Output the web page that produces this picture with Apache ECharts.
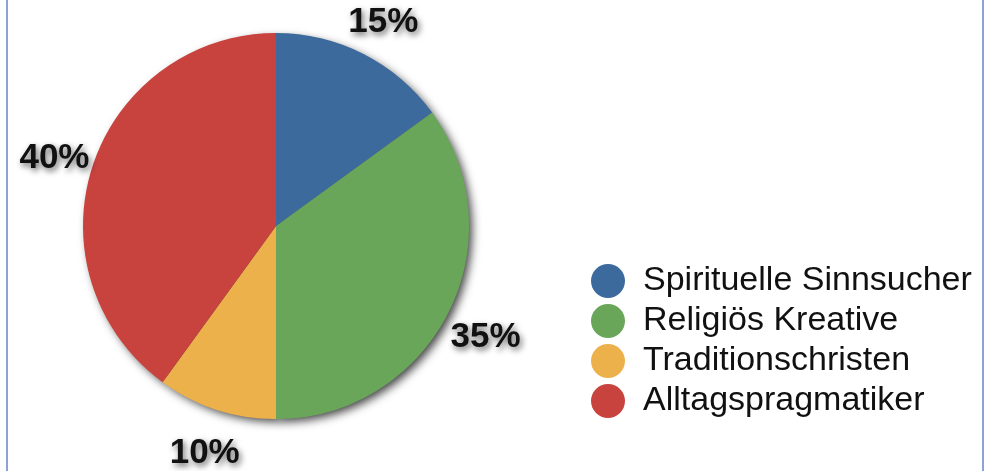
<!DOCTYPE html>
<html lang="de">
<head>
    <meta charset="UTF-8">
    <title>Typen</title>
    <script src="https://cdn.jsdelivr.net/npm/echarts@6/dist/echarts.min.js"></script>
    <style>
        html, body { margin: 0; padding: 0; background: #fff; }
        #frame {
            position: absolute; left: 6px; top: 0; width: 974px; height: 471px;
            border-left: 2px solid #8fa1da; border-right: 2px solid #8fa1da;
        }
        #chart { position: absolute; left: 0; top: 0; width: 984px; height: 471px; }
    </style>
</head>
<body>
<div id="frame"></div>
<div id="chart"></div>
<script>
    // Anteile der Typen (Prozent), im Uhrzeigersinn ab 12 Uhr
    const categories = ['Spirituelle Sinnsucher', 'Religiös Kreative', 'Traditionschristen', 'Alltagspragmatiker'];
    const shares = [15, 35, 10, 40];
    const colors = ['#3d6a9d', '#69a65a', '#edb14b', '#c8423e'];

    const pieData = categories.map(function (name, i) {
        return {value: shares[i], name: name};
    });

    const center = [276, 226];

    let myChart = echarts.init(document.getElementById('chart'));
    let myOption = {
        color: colors,
        animation: false,
        legend: {
            orient: 'vertical',
            left: 586,
            top: 259,
            icon: 'circle',
            itemWidth: 34,
            itemHeight: 34,
            itemGap: 6,
            data: categories,
            textStyle: {
                fontFamily: 'Liberation Sans, Arial, sans-serif',
                fontSize: 34,
                color: '#111',
                padding: [0, 0, 0, 13]
            }
        },
        series: [
            {
                // eigentliche Torte
                name: 'Typen',
                type: 'pie',
                z: 3,
                center: center,
                radius: [0, 193],
                startAngle: 90,
                clockwise: true,
                label: {show: false},
                labelLine: {show: false},
                itemStyle: {borderWidth: 0},
                emphasis: {disabled: true},
                data: pieData
            },
            {
                // Schatten darunter
                name: 'Schatten',
                type: 'pie',
                z: 1,
                silent: true,
                center: center,
                radius: [0, 192],
                startAngle: 90,
                label: {show: false},
                labelLine: {show: false},
                itemStyle: {
                    color: '#555',
                    shadowColor: 'rgba(0,0,0,0.75)',
                    shadowBlur: 10,
                    shadowOffsetX: 4,
                    shadowOffsetY: 4
                },
                data: pieData
            },
            {
                // unsichtbarer Ring nur für die Prozent-Beschriftung
                name: 'Beschriftung',
                type: 'pie',
                z: 4,
                silent: true,
                center: center,
                radius: [200, 262],
                startAngle: 90,
                itemStyle: {color: 'rgba(0,0,0,0)'},
                label: {
                    show: true,
                    position: 'inside',
                    offset: [1, 5],
                    formatter: '{c}%',
                    fontFamily: 'Liberation Sans, Arial, sans-serif',
                    fontWeight: 'bold',
                    fontSize: 35,
                    color: '#111',
                    textBorderWidth: 0,
                    textShadowColor: 'rgba(0,0,0,0.6)',
                    textShadowBlur: 6,
                    textShadowOffsetX: 2,
                    textShadowOffsetY: 3
                },
                labelLine: {show: false},
                data: pieData
            }
        ]
    };
    myChart.setOption(myOption);
</script>
</body>
</html>
